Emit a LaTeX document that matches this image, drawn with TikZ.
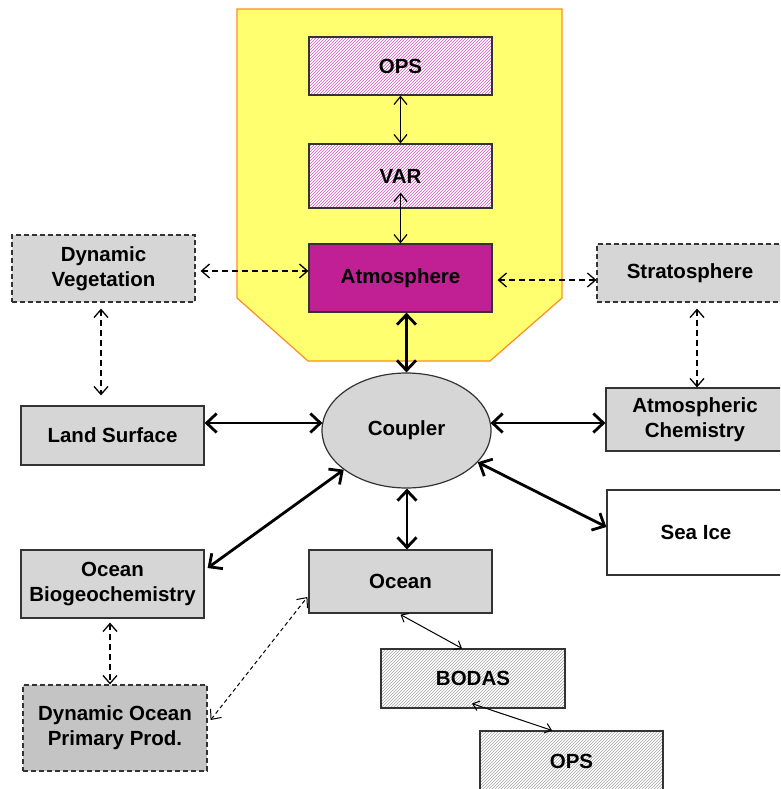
\documentclass[tikz,border=0pt]{standalone}
\usepackage{fontspec}
\setmainfont{Liberation Sans}
\usetikzlibrary{arrows.meta,shapes.geometric,patterns}
\definecolor{atmcol}{RGB}{192,32,148}
\definecolor{yelfill}{RGB}{255,255,112}
\definecolor{yelline}{RGB}{255,140,30}
\definecolor{boxgray}{RGB}{214,214,214}
\definecolor{darkgray2}{RGB}{196,196,196}
\definecolor{hatchpink}{RGB}{215,90,190}
\begin{document}
\begin{tikzpicture}[x=1pt,y=-1pt,
  every node/.style={font=\fontsize{20.5}{25}\selectfont\bfseries, align=center, inner sep=0pt},
  graybox/.style={draw=black!80, line width=1.2pt, fill=boxgray, minimum width=183pt},
  dashbox/.style={graybox, dash pattern=on 5pt off 3pt},
  pinkbox/.style={draw=black!80, line width=1.2pt, preaction={fill=white}, pattern=north east lines, pattern color=hatchpink, minimum width=183pt},
  hatchbox/.style={draw=black!80, line width=1.2pt, preaction={fill=white}, pattern=north east lines, pattern color=black!35, minimum width=184pt},
  thinarr/.style={line width=1.2pt, {Straight Barb[length=8pt,width=13pt]}-{Straight Barb[length=8pt,width=13pt]}},
  smallarr/.style={line width=1pt, {Straight Barb[length=6pt,width=10pt]}-{Straight Barb[length=6pt,width=10pt]}},
  thickarr/.style={line width=2.8pt, {Straight Barb[length=10pt,width=19pt]}-{Straight Barb[length=10pt,width=19pt]}},
  dasharr/.style={line width=1.3pt, dash pattern=on 6pt off 4pt, {Straight Barb[length=8pt,width=14pt]}-{Straight Barb[length=8pt,width=14pt]}}
]
\clip (0,0) rectangle (780,789);
\fill[white] (0,0) rectangle (780,789);
% yellow panel
\draw[fill=yelfill, draw=yelline, line width=1.2pt]
  (237,9) -- (562,9) -- (562,298) -- (490,361) -- (308,361) -- (237,298) -- cycle;

% nodes
\node[pinkbox, minimum height=58pt] (ops1) at (400.5,66) {OPS};
\node[pinkbox, minimum height=64pt] (var) at (400.5,176) {VAR};
\node[draw=black!80, line width=1.2pt, fill=atmcol, minimum width=183pt, minimum height=68pt] (atm) at (400.5,278) {Atmosphere};
\node[dashbox, minimum height=67pt] (dynveg) at (103.5,268.5) {Dynamic\\Vegetation};
\node[dashbox, minimum height=58pt, minimum width=186pt] (strat) at (690,273) {Stratosphere};
\node[graybox, minimum height=59pt] (land) at (112.5,435.5) {Land Surface};
\node[graybox, minimum height=63pt, minimum width=178pt] (atmchem) at (695,419.5) {Atmospheric\\Chemistry};
\node[ellipse, draw=black!80, line width=1.2pt, fill=boxgray, minimum width=169pt, minimum height=115pt] (coupler) at (406.5,430.5) {Coupler};
\node[draw=black!80, line width=1.2pt, fill=white, minimum width=178pt, minimum height=85pt] (seaice) at (696,532.5) {Sea Ice};
\node[graybox, minimum height=63pt] (ocean) at (400.5,581.5) {Ocean};
\node[graybox, minimum height=68pt] (oceanbio) at (112.5,584) {Ocean\\Biogeochemistry};
\node[dashbox, fill=darkgray2, minimum height=86pt, minimum width=184pt] (dopp) at (115,728) {Dynamic Ocean\\Primary Prod.};
\node[hatchbox, minimum height=59pt] (bodas) at (473,678.5) {BODAS};
\node[hatchbox, minimum height=60pt, minimum width=183pt] (ops2) at (571.5,761) {OPS};

% connectors
\draw[thinarr] (ops1.south) -- (var.north);
\draw[thinarr] ([yshift=16pt]var.south) -- (atm.north);
\draw[thickarr] ([xshift=6pt]atm.south) -- (coupler.north);
\draw[dasharr] ([xshift=5pt,yshift=-2.5pt]dynveg.east) -- ([yshift=7pt]atm.west);
\draw[dasharr] ([xshift=5pt,yshift=-2pt]atm.east) -- ([yshift=-7pt]strat.west);
\draw[dasharr] ([xshift=-2.5pt,yshift=-6pt]dynveg.south) -- ([xshift=-11.5pt,yshift=10pt]land.north);
\draw[dasharr] ([xshift=7pt,yshift=-6pt]strat.south) -- ([xshift=2pt]atmchem.north);
\draw[thickarr] ([yshift=12.5pt]land.east) -- ([yshift=12.5pt,xshift=1pt]land.east -| coupler.west);
\draw[thickarr] ([yshift=-3.5pt,xshift=-1pt]atmchem.west -| coupler.east) -- ([yshift=-3.5pt]atmchem.west);
\draw[thickarr] (coupler.-24) -- ([yshift=5.5pt]seaice.west);
\draw[thickarr] ([xshift=0.5pt]coupler.south) -- ([xshift=6.5pt]ocean.north);
\draw[thickarr] (coupler.212) -- ([xshift=3pt,yshift=16pt]oceanbio.east);
\draw[dasharr] ([xshift=-2.5pt,yshift=-4pt]oceanbio.south) -- ([xshift=-5pt]dopp.north);
\draw[dasharr, line width=1pt, dash pattern=on 4pt off 3pt] ([xshift=3pt,yshift=8pt]dopp.east) -- ([xshift=-1pt,yshift=-15.5pt]ocean.west);
\draw[smallarr] ([yshift=-1pt]ocean.south) -- ([xshift=-11pt]bodas.north);
\draw[smallarr] ([xshift=-1pt,yshift=5pt]bodas.south) -- ([xshift=-19.5pt]ops2.north);
\end{tikzpicture}
\end{document}
